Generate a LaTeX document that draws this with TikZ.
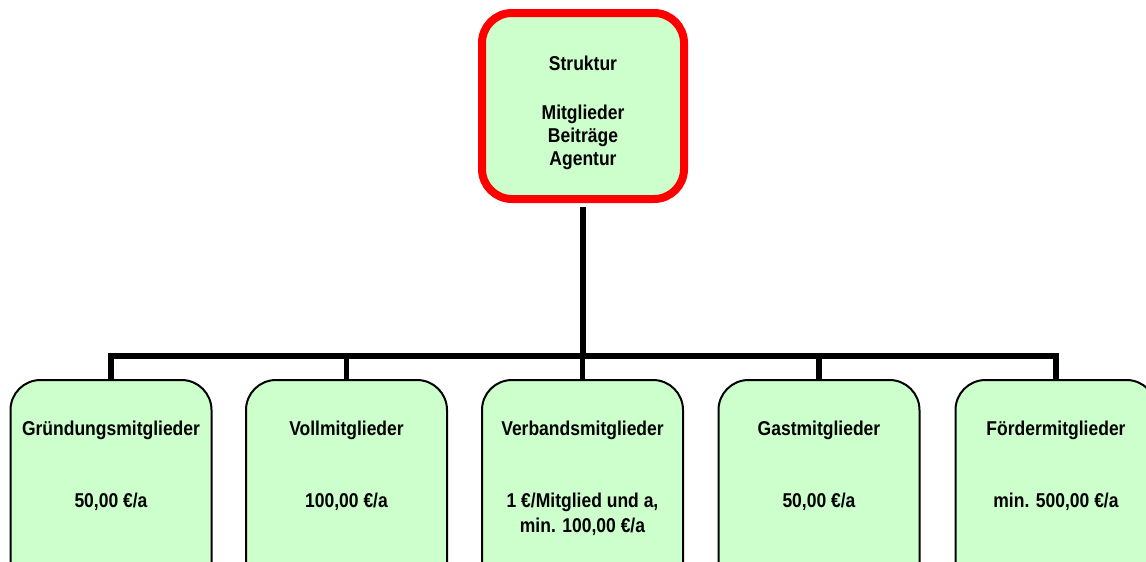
\documentclass[tikz,border=0pt]{standalone}
\usepackage{fontspec}
\setmainfont{Liberation Sans}
\newfontfamily\labfont[FakeStretch=0.875]{Liberation Sans}
\definecolor{boxgreen}{HTML}{CCFFCC}
\definecolor{boxred}{HTML}{FF0000}
\begin{document}
\begin{tikzpicture}[x=1pt,y=-1pt,
  member/.style={draw=black, line width=2pt, fill=boxgreen, rounded corners=30pt,
    minimum width=201pt, minimum height=230pt, inner sep=0pt, anchor=north},
  topbox/.style={draw=boxred, line width=8pt, fill=boxgreen, rounded corners=30pt,
    minimum width=202pt, minimum height=186pt, inner sep=0pt},
  txt/.style={font=\labfont\bfseries\fontsize{20}{25}\selectfont, align=center, anchor=base, inner sep=0pt},
  conn/.style={draw=black, line width=5.5pt}]
\useasboundingbox (0,0) rectangle (1146,562);
\clip (0,0) rectangle (1146,562);

\node[topbox] (top) at (583,106) {};
\node[txt] (t1) at (583,70) {Struktur};
\node[txt] (t2) at (583,119) {Mitglieder};
\node[txt] (t3) at (583,142) {Beiträge};
\node[txt] (t4) at (583,165) {Agentur};

\node[member] (m1) at (111,379) {};
\node[member] (m2) at (346.5,379) {};
\node[member] (m3) at (582.5,379) {};
\node[member] (m4) at (819,379) {};
\node[member] (m5) at (1056,379) {};

\node[txt] (n1) at (111,435) {Gründungsmitglieder};
\node[txt] (p1) at (111,507) {50,00 €/a};
\node[txt] (n2) at (346.5,435) {Vollmitglieder};
\node[txt] (p2) at (346.5,507) {100,00 €/a};
\node[txt] (n3) at (582.5,435) {Verbandsmitglieder};
\node[txt] (p3) at (582.5,507) {1 €/Mitglied und a,};
\node[txt] (q3) at (582.5,532) {min. 100,00 €/a};
\node[txt] (n4) at (819,435) {Gastmitglieder};
\node[txt] (p4) at (819,507) {50,00 €/a};
\node[txt] (n5) at (1056,435) {Fördermitglieder};
\node[txt] (p5) at (1056,507) {min. 500,00 €/a};

\coordinate (bus) at (583,356);
\draw[conn] ([yshift=-4pt]top.south) -- (bus);
\draw[conn, line cap=rect] (m1.north |- bus) -- (m5.north |- bus);
\foreach \m in {m1,m2,m3,m4,m5}
  \draw[conn] (\m.north |- bus) -- ([yshift=-1pt]\m.north);
\end{tikzpicture}
\end{document}
